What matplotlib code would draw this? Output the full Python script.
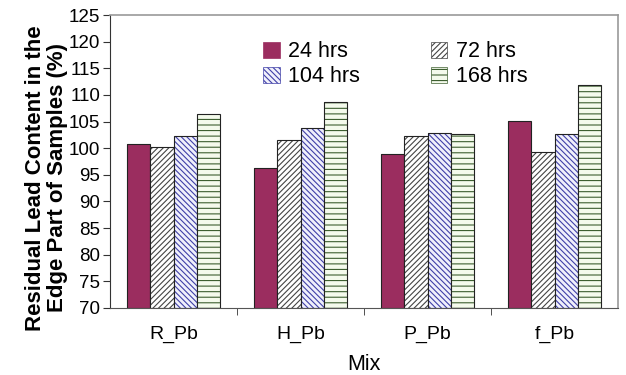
import matplotlib
matplotlib.use("Agg")
import matplotlib.pyplot as plt
import numpy as np
from matplotlib.patches import Patch

plt.rcParams['font.family'] = ['Liberation Sans', 'DejaVu Sans']
plt.rcParams['hatch.linewidth'] = 0.8

categories = ["R_Pb", "H_Pb", "P_Pb", "f_Pb"]
series_names = ["24 hrs", "72 hrs", "104 hrs", "168 hrs"]
v24 = [100.8, 96.2, 99.0, 105.1]
v72 = [100.3, 101.5, 102.2, 99.3]
v104 = [102.3, 103.8, 102.9, 102.6]
v168 = [106.5, 108.6, 102.6, 111.9]
yticks = list(range(70, 126, 5))

values = [v24, v72, v104, v168]
faces = ["#9b2d5f", "white", "#f0f0fb", "#f4faec"]
hatch_cols = ["#9b2d5f", "#444444", "#4040a8", "#3d5f30"]
hatches = [None, "//////", "\\\\\\\\\\\\", "---"]

fig = plt.figure(figsize=(6.26, 3.75), dpi=100)
ax = fig.add_axes([110/626, 1-308/375, (618-110)/626, (308-15)/375])

x = np.arange(len(categories))
w = 0.185
handles = []
for i, (vals, fc, hc, h) in enumerate(zip(values, faces, hatch_cols, hatches)):
    pos = x + (i - 1.5) * w
    ax.bar(pos, np.array(vals) - 70, w, bottom=70, color=fc, edgecolor=hc,
           hatch=h, linewidth=0)
    ax.bar(pos, np.array(vals) - 70, w, bottom=70, fill=False,
           edgecolor="#222222", linewidth=0.8)
    handles.append(Patch(facecolor=fc, edgecolor=hc, hatch=h, linewidth=0.5))

ax.set_xlim(-0.5, 3.5)
ax.set_ylim(70, 125)
ax.set_yticks(yticks)
ax.set_yticklabels([str(t) for t in yticks], fontsize=13.5)
ax.set_xticks(x)
ax.set_xticklabels(categories, fontsize=14)
ax.tick_params(axis='x', length=0, pad=13)
ax.set_xticks([0.5, 1.5, 2.5], minor=True)
ax.tick_params(axis='x', which='minor', length=5, direction='out', color='#333333')
ax.tick_params(axis='y', length=5, direction='out', color='#333333', pad=2)

for s in ['top', 'right']:
    ax.spines[s].set_color('#999999')
    ax.spines[s].set_linewidth(1.2)
ax.spines['left'].set_color('#333333')
ax.spines['bottom'].set_color('#555555')

ax.set_xlabel("Mix", fontsize=15.5, labelpad=8)
ax.set_ylabel("Residual Lead Content in the\nEdge Part of Samples (%)",
              fontsize=16, fontweight='bold', linespacing=1.05)
ax.yaxis.set_label_coords(-0.083, 0.444)

order = [0, 2, 1, 3]
leg = ax.legend([handles[k] for k in order], [series_names[k] for k in order],
                ncol=2, frameon=False, fontsize=15.5,
                loc='upper left', bbox_to_anchor=(0.285, 0.94),
                handlelength=0.75, handleheight=0.75, handletextpad=0.4,
                columnspacing=3.3, labelspacing=0.2, borderaxespad=0)

fig.savefig("out.png", dpi=100)
